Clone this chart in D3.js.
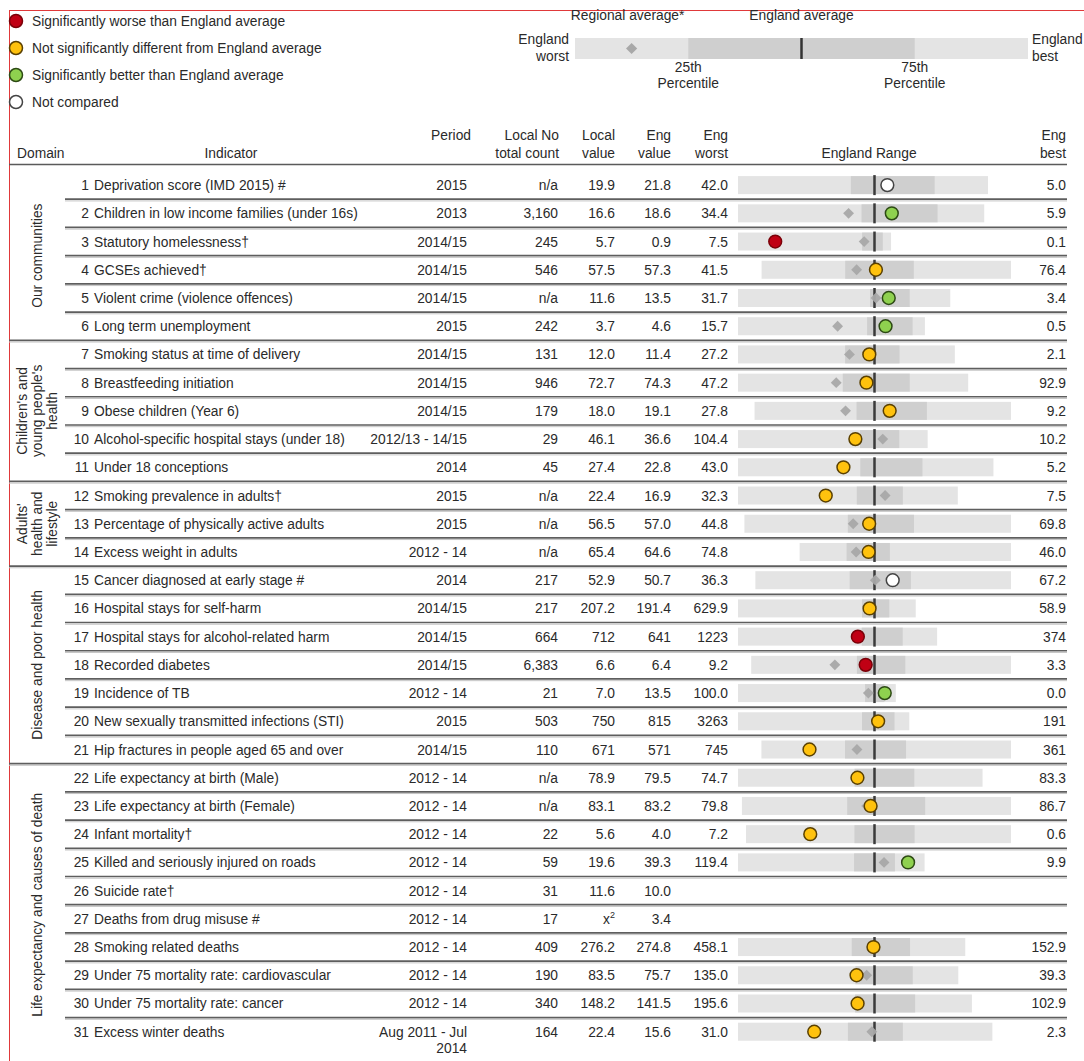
<!DOCTYPE html>
<html lang="en">
<head>
<meta charset="utf-8">
<title>Health summary spine chart</title>
<script src="https://d3js.org/d3.v7.min.js"></script>
<style>
  body { margin: 0; background: #fff; }
  text { font-family: "Liberation Sans", Arial, sans-serif; font-size: 13.8px; fill: #2a2a2a; }
</style>
</head>
<body>
<div id="vis"></div>
<script>
// ---- data ----
const indicators = [
  "Deprivation score (IMD 2015) #", "Children in low income families (under 16s)", "Statutory homelessness\u2020",
  "GCSEs achieved\u2020", "Violent crime (violence offences)", "Long term unemployment",
  "Smoking status at time of delivery", "Breastfeeding initiation", "Obese children (Year 6)",
  "Alcohol-specific hospital stays (under 18)", "Under 18 conceptions",
  "Smoking prevalence in adults\u2020", "Percentage of physically active adults", "Excess weight in adults",
  "Cancer diagnosed at early stage #", "Hospital stays for self-harm", "Hospital stays for alcohol-related harm",
  "Recorded diabetes", "Incidence of TB", "New sexually transmitted infections (STI)",
  "Hip fractures in people aged 65 and over",
  "Life expectancy at birth (Male)", "Life expectancy at birth (Female)", "Infant mortality\u2020",
  "Killed and seriously injured on roads", "Suicide rate\u2020", "Deaths from drug misuse #",
  "Smoking related deaths", "Under 75 mortality rate: cardiovascular", "Under 75 mortality rate: cancer",
  "Excess winter deaths"
];
const periods = [
  "2015", "2013", "2014/15", "2014/15", "2014/15", "2015", "2014/15", "2014/15", "2014/15",
  "2012/13 - 14/15", "2014", "2015", "2015", "2012 - 14", "2014", "2014/15", "2014/15", "2014/15",
  "2012 - 14", "2015", "2014/15", "2012 - 14", "2012 - 14", "2012 - 14", "2012 - 14", "2012 - 14",
  "2012 - 14", "2012 - 14", "2012 - 14", "2012 - 14", "Aug 2011 - Jul\n2014"
];
const localCount = ["n/a", "3,160", "245", "546", "n/a", "242", "131", "946", "179", "29", "45",
  "n/a", "n/a", "n/a", "217", "217", "664", "6,383", "21", "503", "110",
  "n/a", "n/a", "22", "59", "31", "17", "409", "190", "340", "164"];
const localValue = ["19.9", "16.6", "5.7", "57.5", "11.6", "3.7", "12.0", "72.7", "18.0", "46.1", "27.4",
  "22.4", "56.5", "65.4", "52.9", "207.2", "712", "6.6", "7.0", "750", "671",
  "78.9", "83.1", "5.6", "19.6", "11.6", "x\u00b2", "276.2", "83.5", "148.2", "22.4"];
const engValue = ["21.8", "18.6", "0.9", "57.3", "13.5", "4.6", "11.4", "74.3", "19.1", "36.6", "22.8",
  "16.9", "57.0", "64.6", "50.7", "191.4", "641", "6.4", "13.5", "815", "571",
  "79.5", "83.2", "4.0", "39.3", "10.0", "3.4", "274.8", "75.7", "141.5", "15.6"];
const engWorst = ["42.0", "34.4", "7.5", "41.5", "31.7", "15.7", "27.2", "47.2", "27.8", "104.4", "43.0",
  "32.3", "44.8", "74.8", "36.3", "629.9", "1223", "9.2", "100.0", "3263", "745",
  "74.7", "79.8", "7.2", "119.4", "", "", "458.1", "135.0", "195.6", "31.0"];
const engBest = ["5.0", "5.9", "0.1", "76.4", "3.4", "0.5", "2.1", "92.9", "9.2", "10.2", "5.2",
  "7.5", "69.8", "46.0", "67.2", "58.9", "374", "3.3", "0.0", "191", "361",
  "83.3", "86.7", "0.6", "9.9", "", "", "152.9", "39.3", "102.9", "2.3"];
// 25th percentile (worse side) and 75th percentile (better side), estimated
const q25 = [25.3, 20.1, 1.5, 53.2, 14.1, 5.2, 14.8, 68.0, 20.4, 43.8, 24.9,
  18.9, 54.5, 68.4, 47.7, 231.6, 695.6, 6.8, 19.5, 1039, 616.4,
  78.8, 82.5, 4.5, 51.3, null, null, 305.4, 84.0, 149.2, 18.6];
const q75 = [12.9, 11.3, 0.5, 62.8, 8.8, 1.5, 8.5, 81.3, 15.3, 24.3, 15.7,
  13.7, 60.7, 62.5, 55.1, 143.9, 520.7, 5.7, 7.2, 456, 522.5,
  80.9, 84.5, 3.0, 27.3, null, null, 227.1, 59.1, 125.4, 12.4];
const regional = [null, 21.6, 1.4, 54.8, 13.3, 7.6, 14.3, 66.7, 21.2, 32.5, null,
  15.7, 55.0, 67.1, 50.8, null, null, 7.3, 17.4, null, 598,
  null, 83.0, null, 33.7, null, null, null, 79.1, null, 15.9];
const significance = ["none", "better", "worse", "similar", "better", "better", "similar", "similar", "similar", "similar", "similar",
  "similar", "similar", "similar", "none", "similar", "worse", "worse", "better", "similar", "similar",
  "similar", "similar", "similar", "better", null, null, "similar", "similar", "similar", "similar"];

const domainNames = [["Our communities"], ["Children's and", "young people's", "health"],
  ["Adults'", "health and", "lifestyle"], ["Disease and poor health"], ["Life expectancy and causes of death"]];
const domainRows = [[0, 5], [6, 10], [11, 13], [14, 20], [21, 30]];

const legendLabels = ["Significantly worse than England average", "Not significantly different from England average",
  "Significantly better than England average", "Not compared"];
const legendKeys = ["worse", "similar", "better", "none"];

// ---- styles ----
const fills = { worse: "#c00014", similar: "#ffc20e", better: "#8fd14f", none: "#ffffff" };
const strokes = { worse: "#7a0008", similar: "#5a4000", better: "#2d4a14", none: "#444" };
const lightGrey = "#e4e4e4", darkGrey = "#cfcfcf", diamondGrey = "#a8a8a8";

const width = 1084, height = 1061;
const spineLeft = 738, spineRight = 1011;
const rowTop = 171, rowH = 28.22;

const svg = d3.select("#vis").append("svg")
  .attr("width", width).attr("height", height);

// red frame
svg.append("rect").attr("x", 9.5).attr("y", 10.5).attr("width", 1090).attr("height", 1070)
  .attr("fill", "none").attr("stroke", "#e0393a").attr("stroke-width", 1);

// legend
const leg = svg.append("g");
legendKeys.forEach((k, i) => {
  const ly = 21 + i * 27;
  leg.append("circle").attr("cx", 16).attr("cy", ly).attr("r", 6.5)
    .attr("fill", fills[k]).attr("stroke", strokes[k]).attr("stroke-width", 1.5);
  leg.append("text").attr("x", 32).attr("y", ly + 5).text(legendLabels[i]);
});

// key spine
const keyScale = d3.scaleLinear().domain([0, 100]).range([575, 1028]);
const key = svg.append("g");
key.append("rect").attr("x", keyScale(0)).attr("y", 38).attr("width", keyScale(100) - keyScale(0)).attr("height", 21).attr("fill", lightGrey);
key.append("rect").attr("x", keyScale(25)).attr("y", 38).attr("width", keyScale(75) - keyScale(25)).attr("height", 21).attr("fill", darkGrey);
key.append("line").attr("x1", keyScale(50)).attr("x2", keyScale(50)).attr("y1", 38).attr("y2", 59)
  .attr("stroke", "#333").attr("stroke-width", 2.5);
key.append("path").attr("d", d3.symbol(d3.symbolDiamond2, 80)())
  .attr("transform", `translate(${keyScale(12.5)},48.5)`).attr("fill", diamondGrey);
key.append("text").attr("x", keyScale(12.5) - 4).attr("y", 20).attr("text-anchor", "middle").text("Regional average*");
key.append("text").attr("x", keyScale(50)).attr("y", 20).attr("text-anchor", "middle").text("England average");
[["England", 44], ["worst", 61]].forEach(([t, yy]) =>
  key.append("text").attr("x", keyScale(0) - 6).attr("y", yy).attr("text-anchor", "end").text(t));
[["England", 44], ["best", 61]].forEach(([t, yy]) =>
  key.append("text").attr("x", keyScale(100) + 4).attr("y", yy).text(t));
[[25, "25th"], [75, "75th"]].forEach(([p, t]) => {
  key.append("text").attr("x", keyScale(p)).attr("y", 72).attr("text-anchor", "middle").text(t);
  key.append("text").attr("x", keyScale(p)).attr("y", 88).attr("text-anchor", "middle").text("Percentile");
});

// header
const head = svg.append("g");
head.append("text").attr("x", 17).attr("y", 158).text("Domain");
head.append("text").attr("x", 231).attr("y", 158).attr("text-anchor", "middle").text("Indicator");
head.append("text").attr("x", 471).attr("y", 140).attr("text-anchor", "end").text("Period");
[[559, "Local No", "total count"], [615, "Local", "value"], [671, "Eng", "value"], [728, "Eng", "worst"], [1066, "Eng", "best"]]
  .forEach(([x, a, b]) => {
    head.append("text").attr("x", x).attr("y", 140).attr("text-anchor", "end").text(a);
    head.append("text").attr("x", x).attr("y", 158).attr("text-anchor", "end").text(b);
  });
head.append("text").attr("x", 869).attr("y", 158).attr("text-anchor", "middle").text("England Range");
head.append("line").attr("x1", 9).attr("x2", 1067).attr("y1", 164.5).attr("y2", 164.5)
  .attr("stroke", "#5a5a5a").attr("stroke-width", 1.6);

// rows
const y = d3.scaleBand().domain(d3.range(indicators.length))
  .range([rowTop, rowTop + indicators.length * rowH]);

const domainStarts = domainRows.map(d => d[0]);
const sep = svg.append("g");
d3.range(1, indicators.length).forEach(i => {
  const x1 = domainStarts.includes(i) ? 9 : 65;
  sep.append("line").attr("x1", x1).attr("x2", 1067).attr("y1", y(i)).attr("y2", y(i))
    .attr("stroke", "#5e5e5e").attr("stroke-width", 1.7);
  sep.append("line").attr("x1", x1).attr("x2", 1067).attr("y1", y(i) + 1.7).attr("y2", y(i) + 1.7)
    .attr("stroke", "#c4c4c4").attr("stroke-width", 1);
});

// domain labels
domainRows.forEach(([a, b], k) => {
  const cy = (y(a) + y(b) + rowH) / 2;
  const lines = domainNames[k];
  const t = svg.append("text")
    .attr("transform", `translate(37,${cy}) rotate(-90)`)
    .attr("text-anchor", "middle");
  lines.forEach((ln, j) => {
    t.append("tspan").attr("x", 0)
      .attr("dy", j === 0 ? ((-(lines.length - 1) / 2) * 15 + 5) : 15)
      .text(ln);
  });
});

const rows = svg.append("g");
indicators.forEach((name, i) => {
  const cy = y(i) + rowH / 2;
  const base = cy + 5;
  rows.append("text").attr("x", 89).attr("y", base).attr("text-anchor", "end").text(i + 1);
  rows.append("text").attr("x", 94).attr("y", base).text(name);
  const per = periods[i].split("\n");
  per.forEach((p, j) => rows.append("text").attr("x", 467).attr("y", base + j * 16).attr("text-anchor", "end").text(p));
  rows.append("text").attr("x", 558).attr("y", base).attr("text-anchor", "end").text(localCount[i]);
  if (localValue[i] === "x\u00b2") {
    const t = rows.append("text").attr("x", 615).attr("y", base).attr("text-anchor", "end");
    t.append("tspan").text("x");
    t.append("tspan").attr("dy", -6).attr("font-size", 9).text("2");
  } else {
    rows.append("text").attr("x", 615).attr("y", base).attr("text-anchor", "end").text(localValue[i]);
  }
  rows.append("text").attr("x", 671).attr("y", base).attr("text-anchor", "end").text(engValue[i]);
  rows.append("text").attr("x", 728).attr("y", base).attr("text-anchor", "end").text(engWorst[i]);
  rows.append("text").attr("x", 1066).attr("y", base).attr("text-anchor", "end").text(engBest[i]);

  if (engWorst[i] === "") return;
  const avg = +engValue[i], worst = +engWorst[i], best = +engBest[i];
  const h = Math.max(Math.abs(worst - avg), Math.abs(best - avg));
  const dir = best > worst ? 1 : -1;
  const xs = d3.scaleLinear().domain([avg - dir * h, avg + dir * h]).range([spineLeft, spineRight]);
  const g = rows.append("g");
  const bh = 18;
  const lx = Math.min(xs(worst), xs(best)), rx = Math.max(xs(worst), xs(best));
  g.append("rect").attr("x", lx).attr("y", cy - bh / 2).attr("width", rx - lx).attr("height", bh).attr("fill", lightGrey);
  const d1 = Math.min(xs(q25[i]), xs(q75[i])), d2 = Math.max(xs(q25[i]), xs(q75[i]));
  g.append("rect").attr("x", d1).attr("y", cy - bh / 2).attr("width", d2 - d1).attr("height", bh).attr("fill", darkGrey);
  g.append("line").attr("x1", xs(avg)).attr("x2", xs(avg)).attr("y1", cy - 10).attr("y2", cy + 10)
    .attr("stroke", "#3a3a3a").attr("stroke-width", 2.5);
  if (regional[i] !== null) {
    g.append("path").attr("d", d3.symbol(d3.symbolDiamond2, 75)())
      .attr("transform", `translate(${xs(regional[i])},${cy})`)
      .attr("fill", diamondGrey).attr("opacity", 0.95);
  }
  const s = significance[i];
  g.append("circle").attr("cx", xs(+localValue[i])).attr("cy", cy).attr("r", 6.4)
    .attr("fill", fills[s]).attr("stroke", strokes[s]).attr("stroke-width", 1.5);
});
</script>
</body>
</html>
